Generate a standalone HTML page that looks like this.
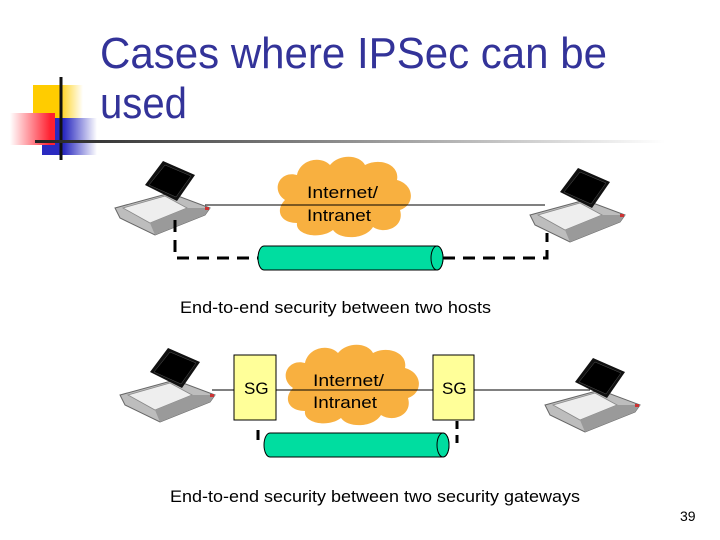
<!DOCTYPE html>
<html><head><meta charset="utf-8"><style>
body{margin:0;background:#fff;}
svg{display:block;font-family:"Liberation Sans",sans-serif;}
</style></head><body>
<svg width="720" height="540" viewBox="0 0 720 540">
<defs>
<linearGradient id="hl" x1="0" x2="1"><stop offset="0" stop-color="#222"/><stop offset="1" stop-color="#fff"/></linearGradient>
<linearGradient id="yl" x1="0" x2="1"><stop offset="0.5" stop-color="#ffcc00"/><stop offset="1" stop-color="#fff"/></linearGradient>
<linearGradient id="bl" x1="0" x2="1"><stop offset="0.4" stop-color="#2a2ac0"/><stop offset="1" stop-color="#fff"/></linearGradient>
<linearGradient id="rl" x1="1" x2="0"><stop offset="0.1" stop-color="#ff2030"/><stop offset="1" stop-color="#fff"/></linearGradient>
<g id="lap">
<polygon points="0,45 55,30 95,45 90,52 40,72 5,55" fill="#bdbdbd" stroke="#666" stroke-width="1"/>
<polygon points="8,45 50,33 72,45 35,60" fill="#eee" stroke="#888" stroke-width="0.8"/>
<polygon points="35,60 72,45 95,45 90,52 40,72" fill="#9a9a9a"/>
<polygon points="30,22 48,-2 80,12 62,38" fill="#111"/>
<polygon points="34,22 50,2 76,13 61,34" fill="#000" stroke="#555" stroke-width="0.5"/>
<rect x="90" y="44" width="4" height="3" fill="#c33"/>
</g>
<g id="cloud">
<path d="M10,45 C-5,35 5,15 22,20 C25,5 45,0 55,10 C65,-2 85,0 90,10 C105,2 125,10 122,25 C140,30 140,50 125,55 C130,72 110,80 98,72 C90,85 65,85 58,75 C45,85 20,80 22,68 C5,68 0,55 10,45 Z" fill="#f8b040"/>
</g>
</defs>
<rect x="33" y="85" width="50" height="33" fill="url(#yl)"/>
<rect x="42" y="118" width="55" height="37" fill="url(#bl)"/>
<rect x="10" y="113" width="45" height="32" fill="url(#rl)"/>
<line x1="61" y1="77" x2="61" y2="160" stroke="#111" stroke-width="3"/>
<rect x="35" y="140" width="630" height="3" fill="url(#hl)"/>
<text x="100" y="68" font-size="44" fill="#333399" textLength="507" lengthAdjust="spacingAndGlyphs">Cases where IPSec can be</text>
<text x="100" y="118" font-size="44" fill="#333399" textLength="87" lengthAdjust="spacingAndGlyphs">used</text>

<use href="#cloud" x="275" y="155"/>
<line x1="205" y1="205" x2="545" y2="205" stroke="#000" stroke-width="1"/>
<use href="#lap" x="115" y="163"/>
<use href="#lap" x="530" y="170"/>
<text x="307" y="198" font-size="17" textLength="71" lengthAdjust="spacingAndGlyphs">Internet/</text>
<text x="307" y="221" font-size="17" textLength="64" lengthAdjust="spacingAndGlyphs">Intranet</text>
<polyline points="175,220 175,258 258,258" fill="none" stroke="#000" stroke-width="3" stroke-dasharray="12,8"/>
<polyline points="443,258 547,258 547,233" fill="none" stroke="#000" stroke-width="3" stroke-dasharray="12,8"/>
<path d="M264,246 H437 A6,12 0 0 1 437,270 H264 A6,12 0 0 1 264,246 Z" fill="#00dda0" stroke="#000"/>
<ellipse cx="437" cy="258" rx="6" ry="12" fill="#00dda0" stroke="#000"/>
<text x="180" y="313" font-size="17" textLength="311" lengthAdjust="spacingAndGlyphs">End-to-end security between two hosts</text>

<use href="#cloud" x="283" y="343"/>
<line x1="212" y1="390" x2="590" y2="390" stroke="#000" stroke-width="1"/>
<use href="#lap" x="120" y="350"/>
<use href="#lap" x="545" y="360"/>
<rect x="234" y="355" width="42" height="65" fill="#ffff99" stroke="#000"/>
<rect x="433" y="355" width="41" height="65" fill="#ffff99" stroke="#000"/>
<text x="244" y="394" font-size="17">SG</text>
<text x="442" y="394" font-size="17">SG</text>
<text x="313" y="386" font-size="17" textLength="71" lengthAdjust="spacingAndGlyphs">Internet/</text>
<text x="313" y="408" font-size="17" textLength="64" lengthAdjust="spacingAndGlyphs">Intranet</text>
<line x1="258" y1="430" x2="258" y2="440" stroke="#000" stroke-width="3"/>
<polyline points="457,421 457,444 452,444" fill="none" stroke="#000" stroke-width="3" stroke-dasharray="8,6"/>
<path d="M270,433 H443 A6,12 0 0 1 443,457 H270 A6,12 0 0 1 270,433 Z" fill="#00dda0" stroke="#000"/>
<ellipse cx="443" cy="445" rx="6" ry="12" fill="#00dda0" stroke="#000"/>
<text x="170" y="502" font-size="17" textLength="410" lengthAdjust="spacingAndGlyphs">End-to-end security between two security gateways</text>
<text x="680" y="521" font-size="14">39</text>
</svg>
</body></html>
